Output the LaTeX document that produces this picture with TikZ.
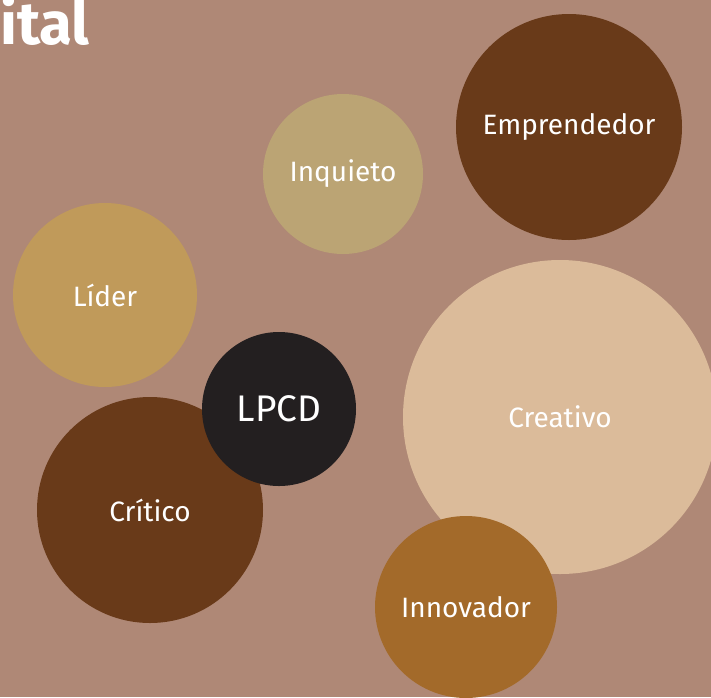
\documentclass[tikz,border=0pt]{standalone}
\usepackage{fontspec}
\setmainfont{Fira Sans}
\usepackage{xcolor}
\usepackage{tikz}
\usetikzlibrary{positioning}
\definecolor{fondo}{RGB}{175,136,118}
\definecolor{cafe}{RGB}{105,58,25}
\definecolor{arena}{RGB}{187,164,116}
\definecolor{dorado}{RGB}{192,154,90}
\definecolor{negro}{RGB}{35,31,32}
\definecolor{crema}{RGB}{219,187,154}
\definecolor{cobre}{RGB}{163,106,42}
\tikzstyle{burbuja}=[circle,inner sep=0pt,align=center,text=white,font=\fontsize{28}{32}\selectfont]

\begin{document}
\begin{tikzpicture}[x=1pt,y=-1pt]
	\useasboundingbox (0,0) rectangle (711,697);
	\fill[fondo] (0,0) rectangle (711,697);

	\node[anchor=base west,text=white,inner sep=0pt,font=\fontsize{60}{64}\bfseries] (titulo) at (0,44) {ital};

	\node[burbuja,fill=cafe,minimum size=226] (emp) at (569,127) {Emprendedor};
	\node[burbuja,fill=arena,minimum size=160] (inq) at (343,174) {Inquieto};
	\node[burbuja,fill=dorado,minimum size=184] (lid) at (105,295) {Líder};
	\node[burbuja,fill=cafe,minimum size=226] (cri) at (150,510) {Crítico};
	\node[burbuja,fill=negro,minimum size=154,font=\fontsize{37}{40}\selectfont] (lpcd) at (279,409) {LPCD};
	\node[burbuja,fill=crema,minimum size=314] (cre) at (560,417) {Creativo};
	\node[burbuja,fill=cobre,minimum size=182] (inn) at (466,607) {Innovador};
\end{tikzpicture}
\end{document}
